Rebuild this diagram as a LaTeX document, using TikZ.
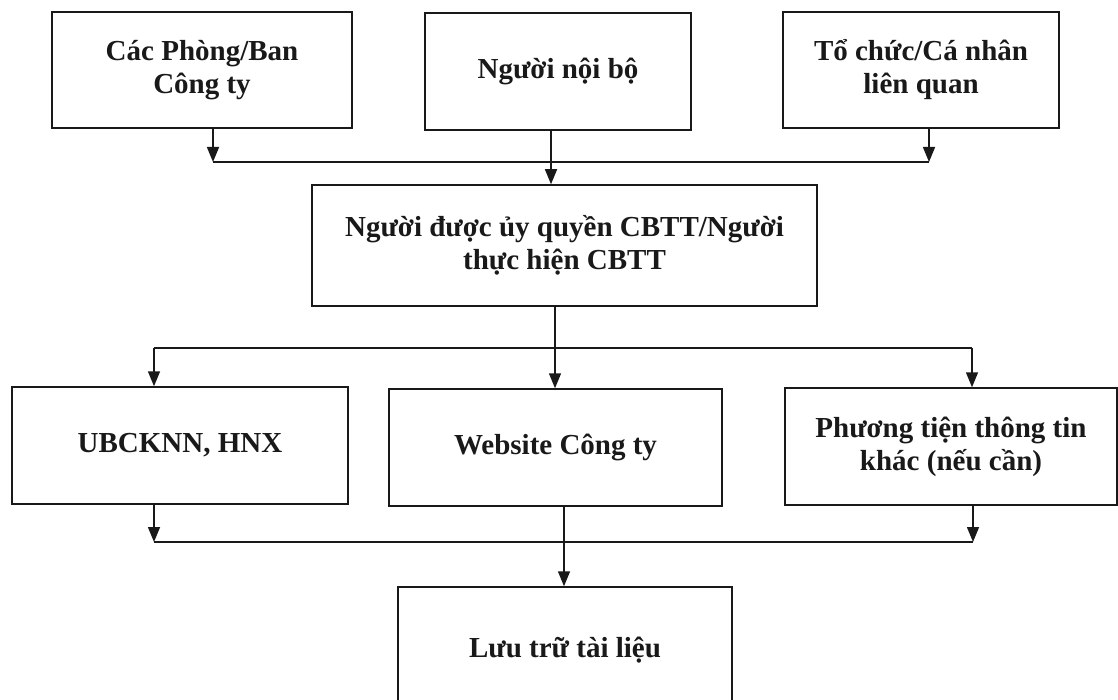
\documentclass[tikz,border=0pt]{standalone}
\usepackage{fontspec}
\setmainfont{Liberation Serif}
\usetikzlibrary{arrows.meta}
\begin{document}
\begin{tikzpicture}[x=1pt,y=-1pt,
  box/.style={draw=black!90, line width=1.5pt, align=center, inner sep=0pt,
    font=\fontsize{29}{33}\selectfont\bfseries, text=black!90},
  link/.style={draw=black!90, line width=1.5pt},
  arr/.style={link, -{Triangle[length=15pt,width=12pt]}}]
\useasboundingbox (0,0) rectangle (1118,700);
\clip (0,0) rectangle (1118,700);
\fill[white] (0,0) rectangle (1118,700);
% top row
\node[box, minimum width=300pt, minimum height=116pt] (a) at (202,70) {Các Phòng/Ban\\Công ty};
\node[box, minimum width=266pt, minimum height=117pt] (b) at (558,71.5) {Người nội bộ};
\node[box, minimum width=276pt, minimum height=116pt] (c) at (921,70) {Tổ chức/Cá nhân\\liên quan};
% middle
\node[box, minimum width=505pt, minimum height=121pt] (d) at (564.5,245.5) {Người được ủy quyền CBTT/Người\\thực hiện CBTT};
% channels
\node[box, minimum width=336pt, minimum height=117pt] (e) at (180,445.5) {UBCKNN, HNX};
\node[box, minimum width=333pt, minimum height=117pt] (f) at (555.5,447.5) {Website Công ty};
\node[box, minimum width=332pt, minimum height=117pt] (g) at (951,446.5) {Phương tiện thông tin\\khác (nếu cần)};
% archive
\node[box, minimum width=334pt, minimum height=126pt] (h) at (565,650) {Lưu trữ tài liệu};
% top connectors
\coordinate (t1) at (213,162);
\coordinate (t2) at (929,162);
\coordinate (bx) at (551,162);
\draw[arr] (t1 |- a.south) -- (t1);
\draw[arr] (t2 |- c.south) -- (t2);
\draw[link] (t1) -- (t2);
\draw[arr] (bx |- b.south) -- (bx |- d.north);
% distribution
\coordinate (l1) at (154,348);
\coordinate (l2) at (972,348);
\coordinate (m1) at (555,348);
\draw[arr] (m1 |- d.south) -- (m1 |- f.north);
\draw[link] (l1) -- (l2);
\draw[arr] (l1) -- (l1 |- e.north);
\draw[arr] (l2) -- (l2 |- g.north);
% collection
\coordinate (b1) at (154,542);
\coordinate (b2) at (973,542);
\coordinate (m2) at (564,542);
\draw[arr] (b1 |- e.south) -- (b1);
\draw[arr] (b2 |- g.south) -- (b2);
\draw[link] (b1) -- (b2);
\draw[arr] (m2 |- f.south) -- (m2 |- h.north);
\end{tikzpicture}
\end{document}
